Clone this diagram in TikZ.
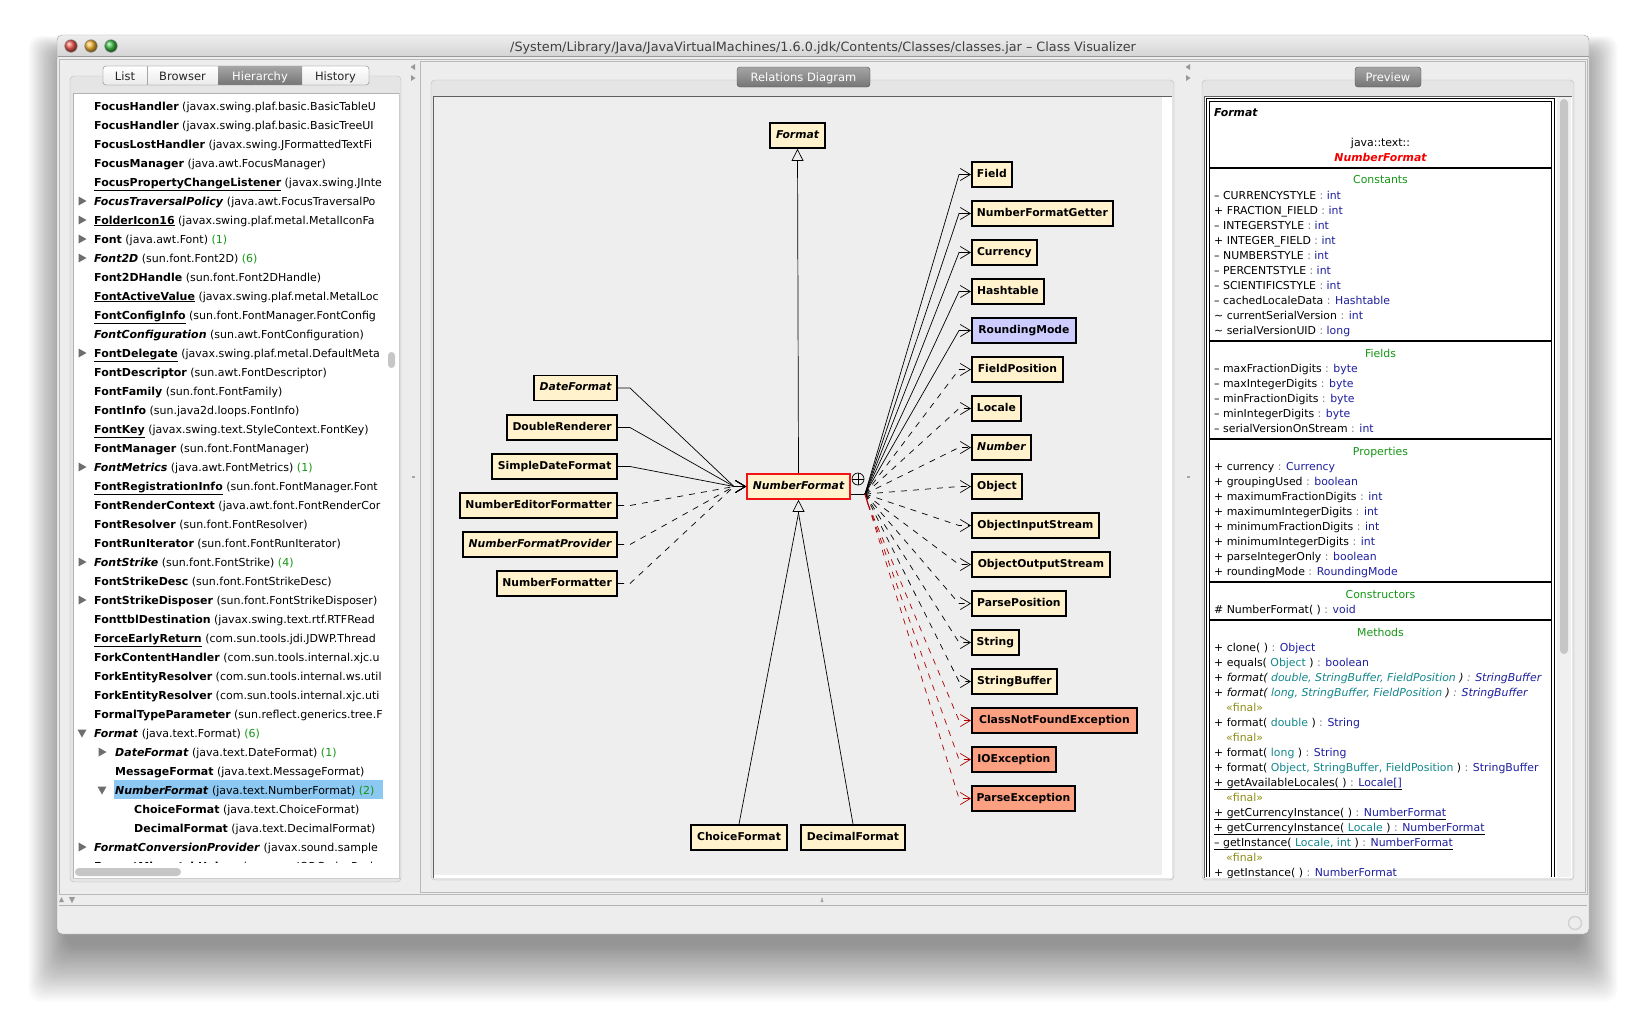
\documentclass[tikz,border=0pt]{standalone}
\usepackage{fontspec}
\setmainfont{DejaVu Sans}
\usetikzlibrary{arrows.meta,calc}
\definecolor{clsfill}{RGB}{255,242,204}
\definecolor{enumfill}{RGB}{204,204,255}
\definecolor{excfill}{RGB}{252,160,130}
\definecolor{nfred}{RGB}{240,20,20}
\definecolor{depredcol}{RGB}{175,0,0}
\definecolor{winbg}{RGB}{237,237,237}
\definecolor{panelbg}{RGB}{229,229,229}
\definecolor{panelline}{RGB}{188,188,188}
\definecolor{diagbg}{RGB}{238,238,238}
\definecolor{titletop}{RGB}{238,238,238}
\definecolor{titlebot}{RGB}{206,206,206}
\definecolor{tabtop}{RGB}{165,165,165}
\definecolor{tabbot}{RGB}{118,118,118}
\definecolor{cvgreen}{RGB}{20,150,20}
\definecolor{cvtype}{RGB}{30,30,160}
\definecolor{cvparam}{RGB}{20,135,140}
\definecolor{cvfinal}{RGB}{140,140,20}
\definecolor{cvred}{RGB}{245,0,0}
\definecolor{cvcolon}{RGB}{120,120,150}
\definecolor{expcol}{RGB}{110,110,110}
\definecolor{hilite}{RGB}{140,200,242}
\newcommand\cvnode{\fontsize{10.8}{12}\selectfont\bfseries}
\newcommand\cvlist{\fontsize{11}{13}\selectfont}
\newcommand\cvprev{\fontsize{10.9}{12}\selectfont}
\newcommand\cvtab{\fontsize{11.5}{13}\selectfont}
\newcommand\cvtitle{\fontsize{12.8}{14}\selectfont}
\newcommand\cnt[1]{\textcolor{cvgreen}{#1}}
\newcommand\ty[1]{\textcolor{cvtype}{#1}}
\newcommand\pa[1]{\textcolor{cvparam}{#1}}
\newcommand\ret[1]{ \textcolor{cvcolon}{:} \ty{#1}}
\newcommand\cvrow[3]{\node[lst] (row#1) at (#2,{110+19*(#1-1)}) {#3};}
\newcommand\cvtri[2]{\fill[expcol] ({#2-3.5},{106+19*(#1-1)-4.5}) -- ({#2+4.5},{106+19*(#1-1)}) -- ({#2-3.5},{106+19*(#1-1)+4.5}) -- cycle;}
\newcommand\cvtrid[2]{\fill[expcol] ({#2-4.5},{106+19*(#1-1)-3.5}) -- ({#2+4.5},{106+19*(#1-1)-3.5}) -- ({#2},{106+19*(#1-1)+4.5}) -- cycle;}
\tikzset{
 cls/.style={draw=black,line width=1.8pt,fill=clsfill,font=\cvnode,minimum height=25pt,inner xsep=2pt,inner ysep=0pt,text height=8pt,text depth=2.2pt},
 clsred/.style={cls,draw=nfred},
 clsblue/.style={cls,fill=enumfill},
 clsexc/.style={cls,fill=excfill},
 assoc/.style={line width=0.7pt,-{Straight Barb[length=10pt,width=12pt]}},
 dep/.style={assoc,dash pattern=on 6pt off 6pt},
 depred/.style={dep,draw=depredcol},
 gen/.style={line width=0.7pt,-{Triangle[open,length=12pt,width=12pt]}},
 lst/.style={anchor=base west,inner sep=0pt,font=\cvlist},
 pv/.style={anchor=base west,inner sep=0pt,font=\cvprev},
 pvc/.style={anchor=base,inner sep=0pt,font=\cvprev},
 tabtext/.style={anchor=base,font=\cvtab,text=white,inner sep=0pt},
 segtext/.style={anchor=base,font=\cvtab,text=black!85,inner sep=0pt},
 panel/.style={draw=panelline,fill=panelbg,rounded corners=4pt},
}
\begin{document}
\begin{tikzpicture}[x=1pt,y=-1pt]
\useasboundingbox (0,0) rectangle (1646,1013);
\fill[white] (0,0) rectangle (1646,1013);
% shadow
\foreach \i in {1,...,24}{
  \fill[black,opacity=0.02,rounded corners=12pt] ({67-1.6*\i},{60-1.0*\i}) rectangle ({1579+1.6*\i},{944+2.4*\i});
}
% window
\fill[winbg,rounded corners=5pt] (57,35) rectangle (1589,934);
\shade[top color=titletop,bottom color=titlebot,rounded corners=5pt] (57,35) rectangle (1589,62);
\fill[winbg] (58,56) rectangle (1588,70);
\draw[gray!75,rounded corners=5pt] (57,35) rectangle (1589,934);
\draw[gray!80] (57.5,56.5) -- (1588.5,56.5);
% traffic lights
\shade[ball color={rgb,255:red,240;green,90;blue,80}] (71,46) circle (6.3);
\shade[ball color={rgb,255:red,245;green,180;blue,50}] (91,46) circle (6.3);
\shade[ball color={rgb,255:red,60;green,190;blue,70}] (111,46) circle (6.3);
\draw[black!45,line width=0.5pt] (71,46) circle (6.3) (91,46) circle (6.3) (111,46) circle (6.3);
\node[anchor=base,font=\cvtitle,text=black!75,inner sep=0pt] (title) at (823,51) {/System/Library/Java/JavaVirtualMachines/1.6.0.jdk/Contents/Classes/classes.jar – Class Visualizer};
% split pane frames
\draw[gray!55] (59.5,59.5) rectangle (1587.5,894.5);
\draw[gray!55] (420.5,61.5) rectangle (1585.5,892.5);
% splitter arrows
\fill[gray!80] (415,64) -- (415,70) -- (410.5,67) -- cycle;
\fill[gray!80] (411,75) -- (411,81) -- (415.5,78) -- cycle;
\fill[gray!80] (1190,64) -- (1190,70) -- (1185.5,67) -- cycle;
\fill[gray!80] (1186,75) -- (1186,81) -- (1190.5,78) -- cycle;
\fill[gray!70] (412,476) rectangle (415,478);
\fill[gray!70] (1187,476) rectangle (1190,478);
% bottom bar
\draw[gray!60,line width=1pt] (59,905) -- (1587,905);
\fill[gray!80] (59,902) -- (64,902) -- (61.5,897) -- cycle;
\fill[gray!80] (69,897) -- (75,897) -- (72,903) -- cycle;
\fill[gray!70] (820.5,902) -- (823.5,902) -- (822,897) -- cycle;
\draw[gray!35,line width=1.5pt] (1575,923) circle (6.5);

% ===== left pane =====
\draw[panel] (70,76) rectangle (401,882);
\fill[white] (73,93) rectangle (399,878.5);
\draw[gray!60] (73,878.5) -- (73,93) -- (399,93);
\draw[gray!40] (399,93) -- (399,878.5) -- (73,878.5);
\fill[hilite] (114,780) rectangle (383,799);
\begin{scope}
\clip (74,94) rectangle (385,863);
\cvrow{1}{94}{\textbf{FocusHandler} (javax.swing.plaf.basic.BasicTableU}
\cvrow{2}{94}{\textbf{FocusHandler} (javax.swing.plaf.basic.BasicTreeUI}
\cvrow{3}{94}{\textbf{FocusLostHandler} (javax.swing.JFormattedTextFi}
\cvrow{4}{94}{\textbf{FocusManager} (java.awt.FocusManager)}
\cvrow{5}{94}{\underline{\textbf{FocusPropertyChangeListener}} (javax.swing.JInte}
\cvrow{6}{94}{\textbf{\textit{FocusTraversalPolicy}} (java.awt.FocusTraversalPo}
\cvrow{7}{94}{\underline{\textbf{FolderIcon16}} (javax.swing.plaf.metal.MetalIconFa}
\cvrow{8}{94}{\textbf{Font} (java.awt.Font) \cnt{(1)}}
\cvrow{9}{94}{\textbf{\textit{Font2D}} (sun.font.Font2D) \cnt{(6)}}
\cvrow{10}{94}{\textbf{Font2DHandle} (sun.font.Font2DHandle)}
\cvrow{11}{94}{\underline{\textbf{FontActiveValue}} (javax.swing.plaf.metal.MetalLoc}
\cvrow{12}{94}{\underline{\textbf{FontConfigInfo}} (sun.font.FontManager.FontConfig}
\cvrow{13}{94}{\textbf{\textit{FontConfiguration}} (sun.awt.FontConfiguration)}
\cvrow{14}{94}{\underline{\textbf{FontDelegate}} (javax.swing.plaf.metal.DefaultMeta}
\cvrow{15}{94}{\textbf{FontDescriptor} (sun.awt.FontDescriptor)}
\cvrow{16}{94}{\textbf{FontFamily} (sun.font.FontFamily)}
\cvrow{17}{94}{\textbf{FontInfo} (sun.java2d.loops.FontInfo)}
\cvrow{18}{94}{\underline{\textbf{FontKey}} (javax.swing.text.StyleContext.FontKey)}
\cvrow{19}{94}{\textbf{FontManager} (sun.font.FontManager)}
\cvrow{20}{94}{\textbf{\textit{FontMetrics}} (java.awt.FontMetrics) \cnt{(1)}}
\cvrow{21}{94}{\underline{\textbf{FontRegistrationInfo}} (sun.font.FontManager.Font}
\cvrow{22}{94}{\textbf{FontRenderContext} (java.awt.font.FontRenderCor}
\cvrow{23}{94}{\textbf{FontResolver} (sun.font.FontResolver)}
\cvrow{24}{94}{\textbf{FontRunIterator} (sun.font.FontRunIterator)}
\cvrow{25}{94}{\textbf{\textit{FontStrike}} (sun.font.FontStrike) \cnt{(4)}}
\cvrow{26}{94}{\textbf{FontStrikeDesc} (sun.font.FontStrikeDesc)}
\cvrow{27}{94}{\textbf{FontStrikeDisposer} (sun.font.FontStrikeDisposer)}
\cvrow{28}{94}{\textbf{FonttblDestination} (javax.swing.text.rtf.RTFRead}
\cvrow{29}{94}{\underline{\textbf{ForceEarlyReturn}} (com.sun.tools.jdi.JDWP.Thread}
\cvrow{30}{94}{\textbf{ForkContentHandler} (com.sun.tools.internal.xjc.u}
\cvrow{31}{94}{\textbf{ForkEntityResolver} (com.sun.tools.internal.ws.util}
\cvrow{32}{94}{\textbf{ForkEntityResolver} (com.sun.tools.internal.xjc.uti}
\cvrow{33}{94}{\textbf{FormalTypeParameter} (sun.reflect.generics.tree.F}
\cvrow{34}{94}{\textbf{\textit{Format}} (java.text.Format) \cnt{(6)}}
\cvrow{35}{115}{\textbf{\textit{DateFormat}} (java.text.DateFormat) \cnt{(1)}}
\cvrow{36}{115}{\textbf{MessageFormat} (java.text.MessageFormat)}
\cvrow{37}{115}{\textbf{\textit{NumberFormat}} (java.text.NumberFormat) \cnt{(2)}}
\cvrow{38}{134}{\textbf{ChoiceFormat} (java.text.ChoiceFormat)}
\cvrow{39}{134}{\textbf{DecimalFormat} (java.text.DecimalFormat)}
\cvrow{40}{94}{\textbf{\textit{FormatConversionProvider}} (javax.sound.sample}
\cvrow{41}{94}{\textbf{FormatMismatchHelper} (org.omg.IOP.CodecPack}
\end{scope}
\cvtri{6}{82} \cvtri{7}{82} \cvtri{8}{82} \cvtri{9}{82} \cvtri{14}{82}
\cvtri{20}{82} \cvtri{25}{82} \cvtri{27}{82} \cvtrid{34}{82} \cvtri{40}{82}
\cvtri{35}{102} \cvtrid{37}{102}
% scrollbars
\fill[gray!45,rounded corners=3.5pt] (388,352) rectangle (395,368);
\fill[white] (74,863) rectangle (398,878);
\fill[gray!45,rounded corners=4pt] (75,868) rectangle (181,876);
% segmented tabs
\shade[top color=white,bottom color=black!8,draw=gray!70,rounded corners=3pt] (103,66) rectangle (369,85);
\shade[top color=tabtop,bottom color=tabbot] (218,66.5) rectangle (302,84.5);
\draw[gray!70] (147,66) -- (147,85);
\draw[gray!70,rounded corners=3pt] (103,66) rectangle (369,85);
\node[segtext] (tlist) at (125,80) {List};
\node[segtext] (tbrowser) at (182.5,80) {Browser};
\node[tabtext] (thier) at (260,80) {Hierarchy};
\node[segtext] (thist) at (335.5,80) {History};

% ===== middle pane =====
\draw[panel] (431,80) rectangle (1174,880);
\fill[white] (433,96) rectangle (1172,878);
\fill[diagbg] (434,97) rectangle (1162,875);
\draw[gray!75!black] (433.5,878) -- (433.5,96.5) -- (1172,96.5);
\shade[top color=tabtop,bottom color=tabbot,draw=gray!65!black,rounded corners=3pt] (737,67) rectangle (870,87);
\node[tabtext] (reltab) at (803.5,81.5) {Relations Diagram};

% ===== preview pane =====
\draw[panel] (1202,80) rectangle (1574,880);
\fill[white] (1204,96) rectangle (1572,878);
\draw[gray!75!black] (1204.5,878) -- (1204.5,96.5) -- (1572,96.5);
\fill[black!6] (1557,97) rectangle (1571,877);
\fill[gray!45,rounded corners=4pt] (1560,99) rectangle (1568,654);
\shade[top color=tabtop,bottom color=tabbot,draw=gray!65!black,rounded corners=3pt] (1355,67) rectangle (1421,87);
\node[tabtext] (prevtab) at (1388,81.5) {Preview};
\draw[line width=1pt] (1206.5,877) -- (1206.5,98.5) -- (1554.5,98.5) -- (1554.5,877);
\draw[line width=1pt] (1209.5,877) -- (1209.5,101.5) -- (1551.5,101.5) -- (1551.5,877);
\foreach \yy in {168,341,439,582,620}{\draw[line width=2pt] (1210,\yy) -- (1551,\yy);}
\begin{scope}
\clip (1210,102) rectangle (1551,877);
\node[pv,font=\cvprev\bfseries\itshape] (pvsuper) at (1214,116) {Format};
\node[pvc] (pvpkg) at (1380.5,146) {java::text::};
\node[pvc,font=\cvprev\bfseries\itshape,text=cvred] (pvname) at (1380.5,161) {NumberFormat};
\node[pvc,text=cvgreen] (hconst) at (1380.5,183) {Constants};
\node[pv] (c1) at (1214,199) {– CURRENCYSTYLE\ret{int}};
\node[pv] (c2) at (1214,214) {+ FRACTION\_FIELD\ret{int}};
\node[pv] (c3) at (1214,229) {– INTEGERSTYLE\ret{int}};
\node[pv] (c4) at (1214,244) {+ INTEGER\_FIELD\ret{int}};
\node[pv] (c5) at (1214,259) {– NUMBERSTYLE\ret{int}};
\node[pv] (c6) at (1214,274) {– PERCENTSTYLE\ret{int}};
\node[pv] (c7) at (1214,289) {– SCIENTIFICSTYLE\ret{int}};
\node[pv] (c8) at (1214,304) {– cachedLocaleData\ret{Hashtable}};
\node[pv] (c9) at (1214,319) {\textasciitilde\ currentSerialVersion\ret{int}};
\node[pv] (c10) at (1214,334) {\textasciitilde\ serialVersionUID\ret{long}};
\node[pvc,text=cvgreen] (hfld) at (1380.5,357) {Fields};
\node[pv] (f1) at (1214,372) {– maxFractionDigits\ret{byte}};
\node[pv] (f2) at (1214,387) {– maxIntegerDigits\ret{byte}};
\node[pv] (f3) at (1214,402) {– minFractionDigits\ret{byte}};
\node[pv] (f4) at (1214,417) {– minIntegerDigits\ret{byte}};
\node[pv] (f5) at (1214,432) {– serialVersionOnStream\ret{int}};
\node[pvc,text=cvgreen] (hprop) at (1380.5,455) {Properties};
\node[pv] (p1) at (1214,470) {+ currency\ret{Currency}};
\node[pv] (p2) at (1214,485) {+ groupingUsed\ret{boolean}};
\node[pv] (p3) at (1214,500) {+ maximumFractionDigits\ret{int}};
\node[pv] (p4) at (1214,515) {+ maximumIntegerDigits\ret{int}};
\node[pv] (p5) at (1214,530) {+ minimumFractionDigits\ret{int}};
\node[pv] (p6) at (1214,545) {+ minimumIntegerDigits\ret{int}};
\node[pv] (p7) at (1214,560) {+ parseIntegerOnly\ret{boolean}};
\node[pv] (p8) at (1214,575) {+ roundingMode\ret{RoundingMode}};
\node[pvc,text=cvgreen] (hcons) at (1380.5,598) {Constructors};
\node[pv] (k1) at (1214,613) {\# NumberFormat( )\ret{void}};
\node[pvc,text=cvgreen] (hmeth) at (1380.5,636) {Methods};
\node[pv] (m1) at (1214,651) {+ clone( )\ret{Object}};
\node[pv] (m2) at (1214,666) {+ equals( \pa{Object} )\ret{boolean}};
\node[pv,font=\cvprev\itshape] (m3) at (1214,681) {+ format( \pa{double, StringBuffer, FieldPosition} )\ret{StringBuffer}};
\node[pv,font=\cvprev\itshape] (m4) at (1214,696) {+ format( \pa{long, StringBuffer, FieldPosition} )\ret{StringBuffer}};
\node[pv,text=cvfinal] (m5) at (1226,711) {«final»};
\node[pv] (m6) at (1214,726) {+ format( \pa{double} )\ret{String}};
\node[pv,text=cvfinal] (m7) at (1226,741) {«final»};
\node[pv] (m8) at (1214,756) {+ format( \pa{long} )\ret{String}};
\node[pv] (m9) at (1214,771) {+ format( \pa{Object, StringBuffer, FieldPosition} )\ret{StringBuffer}};
\node[pv] (m10) at (1214,786) {\underline{+ getAvailableLocales( )\ret{Locale[]}}};
\node[pv,text=cvfinal] (m11) at (1226,801) {«final»};
\node[pv] (m12) at (1214,816) {\underline{+ getCurrencyInstance( )\ret{NumberFormat}}};
\node[pv] (m13) at (1214,831) {\underline{+ getCurrencyInstance( \pa{Locale} )\ret{NumberFormat}}};
\node[pv] (m14) at (1214,846) {\underline{– getInstance( \pa{Locale, int} )\ret{NumberFormat}}};
\node[pv,text=cvfinal] (m15) at (1226,861) {«final»};
\node[pv] (m16) at (1214,876) {+ getInstance( )\ret{NumberFormat}};
\end{scope}

% ===== diagram =====
\node[cls,minimum width=55pt,font=\cvnode\itshape] (fmt) at (797.5,135.5) {Format};
\node[clsred,minimum width=103pt,font=\cvnode\itshape] (nf) at (798.5,486.5) {NumberFormat};
\node[cls,anchor=east,minimum width=83pt,font=\cvnode\itshape] (df) at (618,388) {DateFormat};
\node[cls,anchor=east,minimum width=110pt] (dr) at (618,427.5) {DoubleRenderer};
\node[cls,anchor=east,minimum width=125pt] (sdf) at (618,466.5) {SimpleDateFormat};
\node[cls,anchor=east,minimum width=157pt] (nef) at (618,505.5) {NumberEditorFormatter};
\node[cls,anchor=east,minimum width=154pt,font=\cvnode\itshape] (nfp) at (618,544.5) {NumberFormatProvider};
\node[cls,anchor=east,minimum width=120pt] (nfm) at (618,583.5) {NumberFormatter};
\node[cls,minimum width=96pt] (chf) at (739,837.5) {ChoiceFormat};
\node[cls,minimum width=104pt] (dcf) at (853,837.5) {DecimalFormat};
\node[cls,anchor=west,minimum width=40pt] (fld) at (971,174.5) {Field};
\node[cls,anchor=west,minimum width=141pt] (nfg) at (971,213.5) {NumberFormatGetter};
\node[cls,anchor=west,minimum width=65pt] (cur) at (971,252.5) {Currency};
\node[cls,anchor=west,minimum width=72pt] (hsh) at (971,291.5) {Hashtable};
\node[clsblue,anchor=west,minimum width=104pt] (rnd) at (971,330.5) {RoundingMode};
\node[cls,anchor=west,minimum width=91pt] (fpo) at (971,369.5) {FieldPosition};
\node[cls,anchor=west,minimum width=49pt] (loc) at (971,408.5) {Locale};
\node[cls,anchor=west,minimum width=59pt,font=\cvnode\itshape] (num) at (971,447.5) {Number};
\node[cls,anchor=west,minimum width=50pt] (obj) at (971,486.5) {Object};
\node[cls,anchor=west,minimum width=127pt] (ois) at (971,525.5) {ObjectInputStream};
\node[cls,anchor=west,minimum width=138pt] (oos) at (971,564.5) {ObjectOutputStream};
\node[cls,anchor=west,minimum width=94pt] (ppo) at (971,603.5) {ParsePosition};
\node[cls,anchor=west,minimum width=47pt] (str) at (971,642.5) {String};
\node[cls,anchor=west,minimum width=85pt] (sbf) at (971,681.5) {StringBuffer};
\node[clsexc,anchor=west,minimum width=165pt] (cnf) at (971,720.5) {ClassNotFoundException};
\node[clsexc,anchor=west,minimum width=84pt] (ioe) at (971,759.5) {IOException};
\node[clsexc,anchor=west,minimum width=103pt] (pex) at (971,798.5) {ParseException};

\coordinate (jin) at (734,486.5);
\coordinate (jout) at (865,494);
\coordinate (jred) at (868,504);
\coordinate (jgen) at (798.5,513);

\draw[gen] (nf.north) -- (fmt.south);
\draw[line width=0.7pt] (chf.north) -- (jgen);
\draw[line width=0.7pt] (dcf.north) -- (jgen);
\draw[gen] (jgen) -- (nf.south);

\foreach \n in {df,dr,sdf}{\draw[assoc] (\n.east) -- ++(12,0) -- (jin) -- (nf.west);}
\foreach \n in {nef,nfp,nfm}{\draw[dep] (\n.east) -- ++(12,0) -- (jin) -- (nf.west);}

\draw[line width=0.7pt] (nf.east |- jout) -- (jout);
\draw[line width=0.7pt] (858,479) circle (6);
\draw[line width=0.7pt] (852,479) -- (864,479) (858,473) -- (858,485);
\foreach \n in {fld,nfg,cur,hsh,rnd}{\draw[assoc] (jout) -- ([xshift=-12pt]\n.west) -- (\n.west);}
\foreach \n in {fpo,loc,num,obj,ois,oos,ppo,str,sbf}{\draw[dep] (jout) -- ([xshift=-12pt]\n.west) -- (\n.west);}
\draw[depredcol,line width=1.2pt] (jout) -- (jred);
\foreach \n in {cnf,ioe,pex}{\draw[depred] (jred) -- ([xshift=-12pt]\n.west) -- (\n.west);}
\end{tikzpicture}
\end{document}
